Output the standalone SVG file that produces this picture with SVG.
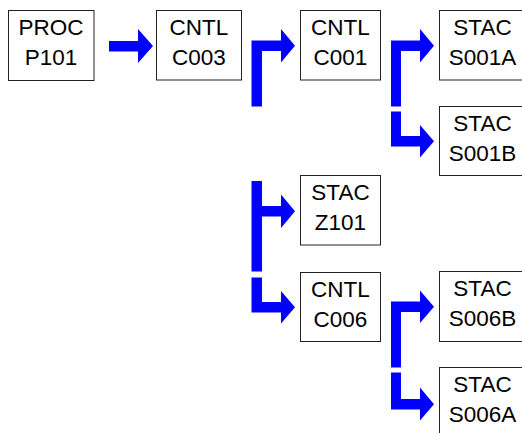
<svg xmlns="http://www.w3.org/2000/svg" width="522" height="433" viewBox="0 0 522 433">
<style>
.box rect{fill:#fff;stroke:#222;stroke-width:1}
.box text{font-family:"Liberation Sans",Arial,sans-serif;font-size:22.5px;fill:#000;text-anchor:middle}
.conn polygon{fill:#0000ff;stroke:none}
</style>
<rect width="522" height="433" fill="#fff"/>
<g id="connectors" class="conn">
<polygon points="109,41 138,41 138,29 153,46 138,63 138,51.5 109,51.5"/>
<polygon points="251.5,106.5 251.5,40.5 281,40.5 281,29 295,45.75 281,62.5 281,51 262,51 262,106.5"/>
<polygon points="391,106.5 391,40.5 420,40.5 420,29 434,45.75 420,62.5 420,51 401,51 401,106.5"/>
<polygon points="391,111.5 401,111.5 401,136 420,136 420,125 434,141.25 420,157.5 420,146.5 391,146.5"/>
<polygon points="251.5,181 262,181 262,206 281,206 281,194.5 295,211.25 281,228 281,216.5 262,216.5 262,271.5 251.5,271.5"/>
<polygon points="251.5,277.5 262,277.5 262,302 281,302 281,291 295,307.25 281,323.5 281,312.5 251.5,312.5"/>
<polygon points="391,367.5 391,301.5 420,301.5 420,290.5 434,306.75 420,323 420,312 401,312 401,367.5"/>
<polygon points="391,372.5 401,372.5 401,399 420,399 420,387.5 434,404.25 420,420.5 420,409.5 391,409.5"/>
</g>
<g id="P101" class="box"><rect x="8.5" y="10.5" width="85.5" height="70"/><text x="51" y="35">PROC</text><text x="51" y="64.5">P101</text></g>
<g id="C003" class="box"><rect x="156.5" y="10.5" width="85" height="69.5"/><text x="199" y="35">CNTL</text><text x="199" y="64.5">C003</text></g>
<g id="C001" class="box"><rect x="300.5" y="10.5" width="80" height="69.5"/><text x="340.5" y="35">CNTL</text><text x="340.5" y="64.5">C001</text></g>
<g id="S001A" class="box"><rect x="439.5" y="10.5" width="86" height="69.5"/><text x="482.5" y="35">STAC</text><text x="482.5" y="64.5">S001A</text></g>
<g id="S001B" class="box"><rect x="439.5" y="106.5" width="86" height="69"/><text x="482.5" y="131">STAC</text><text x="482.5" y="160.5">S001B</text></g>
<g id="Z101" class="box"><rect x="300.5" y="175.5" width="80" height="69.5"/><text x="340.5" y="200">STAC</text><text x="340.5" y="229.5">Z101</text></g>
<g id="C006" class="box"><rect x="300.5" y="272.5" width="80" height="69"/><text x="340.5" y="297">CNTL</text><text x="340.5" y="326.5">C006</text></g>
<g id="S006B" class="box"><rect x="439.5" y="271.5" width="86" height="70"/><text x="482.5" y="296">STAC</text><text x="482.5" y="325.5">S006B</text></g>
<g id="S006A" class="box"><rect x="439.5" y="367.5" width="86" height="70"/><text x="482.5" y="392">STAC</text><text x="482.5" y="421.5">S006A</text></g>
</svg>
